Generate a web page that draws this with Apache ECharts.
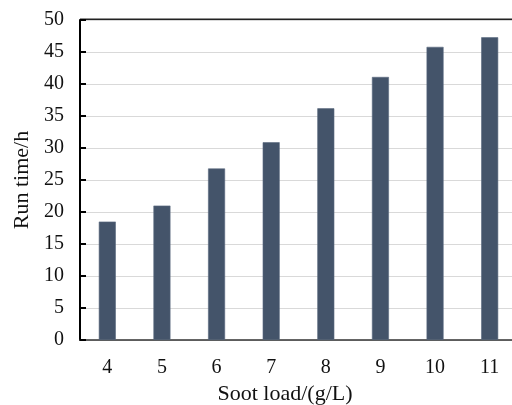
<!DOCTYPE html>
<html>
<head>
<meta charset="utf-8">
<script src="https://cdn.jsdelivr.net/npm/echarts@6/dist/echarts.min.js"></script>
<style>
  html, body { margin: 0; padding: 0; background: #fff; }
  #chart { width: 512px; height: 405px; }
</style>
</head>
<body>
<div id="chart"></div>
<script>
// soot load categories and run time values
var sootLoad = ['4', '5', '6', '7', '8', '9', '10', '11'];
var runTime = [18.5, 21.0, 26.8, 30.9, 36.2, 41.1, 45.8, 47.3];

var font = 'Liberation Serif, Times New Roman, serif';

var chart = echarts.init(document.getElementById('chart'));
chart.setOption({
  animation: false,
  grid: {
    left: 80,
    top: 20,
    width: 437,
    height: 320,
    outerBoundsMode: 'none',
    containLabel: false
  },
  xAxis: {
    type: 'category',
    data: sootLoad,
    name: 'Soot load/(g/L)',
    nameLocation: 'middle',
    nameGap: 42,
    nameTextStyle: { fontFamily: font, fontSize: 22, color: '#111', padding: [0, 27, 0, 0] },
    axisLine: { lineStyle: { color: '#333', width: 1.5 } },
    axisTick: { show: false },
    axisLabel: { fontFamily: font, fontSize: 20, color: '#111', margin: 18 }
  },
  yAxis: [{
    type: 'value',
    min: 0,
    max: 50,
    interval: 5,
    name: 'Run time/h',
    nameLocation: 'middle',
    nameGap: 47,
    nameTextStyle: { fontFamily: font, fontSize: 22, color: '#111' },
    axisLine: { show: true, lineStyle: { color: '#000', width: 2 } },
    axisTick: { show: true, inside: true, length: 6, lineStyle: { color: '#000', width: 2 } },
    axisLabel: { fontFamily: font, fontSize: 20, color: '#111', margin: 16 },
    splitLine: { lineStyle: { color: '#d9d9d9', width: 1.2 } }
  }],
  series: [{
    type: 'bar',
    data: runTime,
    barWidth: 17,
    itemStyle: { color: '#44546a', borderColor: '#5a6a80', borderWidth: 0.6 }
  }],
  graphic: [{
    type: 'line',
    shape: { x1: 80, y1: 19.5, x2: 512, y2: 19.5 },
    style: { stroke: '#222', lineWidth: 2 }
  }]
});
</script>
</body>
</html>
